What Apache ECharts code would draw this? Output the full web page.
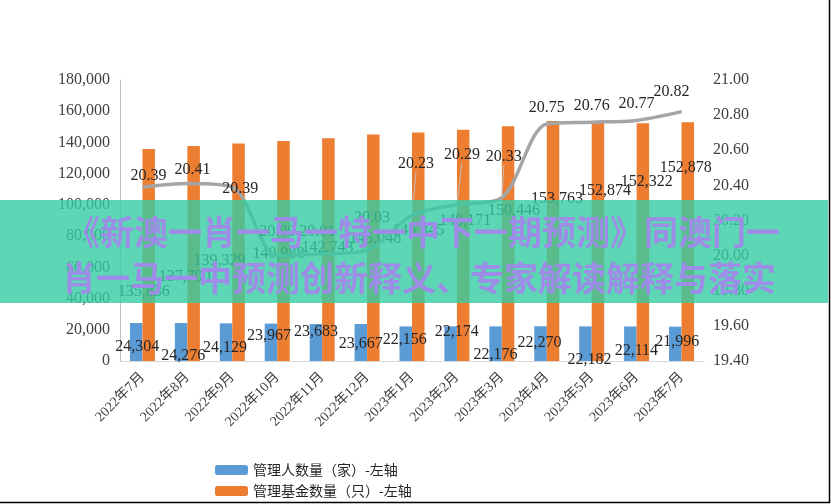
<!DOCTYPE html>
<html>
<head>
<meta charset="utf-8">
<script src="https://cdn.jsdelivr.net/npm/echarts@6/dist/echarts.min.js"></script>
<style>
  html, body { margin: 0; padding: 0; background: #fff; }
  #main { width: 831px; height: 504px; }
</style>
</head>
<body>
<div id="main"></div>
<script>
var categories = ['2022年7月','2022年8月','2022年9月','2022年10月','2022年11月','2022年12月','2023年1月','2023年2月','2023年3月','2023年4月','2023年5月','2023年6月','2023年7月'];
var managers = [24304,24276,24129,23967,23683,23667,22156,22174,22176,22270,22182,22114,21996];
var funds = [135836,137700,139329,140988,142743,145048,146345,148171,150446,153763,152874,152322,152878];
var avgFunds = [20.39,20.41,20.39,20.00,20.01,20.03,20.23,20.29,20.33,20.75,20.76,20.77,20.82];
var leftTicks = {min: 0, max: 180000, interval: 20000};
var rightTicks = {min: 19.4, max: 21.0, interval: 0.2};

// 标签偏移（仿原图手工摆放）
var managerDx = [1,2,-1,-2,0,0,-1,6,0,-1,4,6,2];
var managerDy = [37,46,37,25,21,33,26,18,41,30,46,37,28];
var fundDx = [-5,-9,-19,-5,-1,2,0,2,6,4,7,4,-2];
var fundDy = [156,144,130,126,123,117,111,104,98,91,81,72,58];
var avgDx = [6,5,8,0,-5,5,4,5,2,0,0,0,-10];
var avgDy = [2,0,15,-10,-9,-19,-38,-36,-27,-3,-3,-3,-6];

var serif = '"Liberation Serif", "Noto Sans CJK SC", serif';
var fmt = function (v) { return String(v).replace(/\B(?=(\d{3})+(?!\d))/g, ','); };

var myChart = echarts.init(document.getElementById('main'));
var option = {
  backgroundColor: '#fff',
  animation: false,
  grid: { left: 120, right: 127, top: 80, bottom: 143 },
  legend: {
    data: ['管理人数量（家）-左轴', '管理基金数量（只）-左轴'],
    orient: 'vertical',
    left: 210,
    top: 458,
    height: 46,
    itemWidth: 33,
    itemHeight: 10,
    itemGap: 7,
    textStyle: { fontSize: 14, color: '#262626', fontFamily: '"Noto Sans CJK SC"' }
  },
  xAxis: {
    type: 'category',
    data: categories,
    axisLine: { lineStyle: { color: '#d9d9d9' } },
    axisTick: { length: 5, lineStyle: { color: '#d9d9d9' } },
    axisLabel: { rotate: 45, fontSize: 14, color: '#404040', interval: 0, margin: 14, fontFamily: serif }
  },
  yAxis: [
    {
      type: 'value',
      min: leftTicks.min, max: leftTicks.max, interval: leftTicks.interval,
      axisLine: { show: true, lineStyle: { color: '#bfbfbf' } },
      axisTick: { show: false },
      splitLine: { show: false },
      axisLabel: { fontSize: 16, color: '#404040', fontFamily: serif, margin: 10, formatter: fmt }
    },
    {
      type: 'value',
      min: rightTicks.min, max: rightTicks.max, interval: rightTicks.interval,
      axisLine: { show: false },
      axisTick: { show: false },
      splitLine: { show: false },
      axisLabel: { fontSize: 16, color: '#404040', fontFamily: serif, margin: 9,
        formatter: function (v) { return v.toFixed(2); } }
    }
  ],
  series: [
    {
      name: '管理人数量（家）-左轴',
      type: 'bar',
      data: managers,
      barWidth: 12.5,
      barGap: '0%',
      itemStyle: { color: '#5b9bd5' },
      label: { show: true, position: 'top', fontSize: 16, color: '#262626', fontFamily: serif, formatter: function (p) { return fmt(p.value); } },
      labelLayout: function (p) { return { dx: managerDx[p.dataIndex], dy: managerDy[p.dataIndex] }; }
    },
    {
      name: '管理基金数量（只）-左轴',
      type: 'bar',
      data: funds,
      barWidth: 12.5,
      itemStyle: { color: '#ed7d31' },
      label: { show: true, position: 'top', fontSize: 16, color: '#262626', fontFamily: serif, formatter: function (p) { return fmt(p.value); } },
      labelLayout: function (p) { return { dx: fundDx[p.dataIndex], dy: fundDy[p.dataIndex] }; }
    },
    {
      name: '平均',
      type: 'line',
      yAxisIndex: 1,
      data: avgFunds.map(function (v, i) {
        return (i >= 6 && i <= 8) ? { value: v, labelLine: { show: true } } : v;
      }),
      smooth: 0.3,
      symbol: 'circle',
      symbolSize: 1,
      z: 5,
      lineStyle: { color: '#a5a5a5', width: 3.5 },
      itemStyle: { color: '#a5a5a5' },
      label: { show: true, position: 'top', fontSize: 16, color: '#262626', fontFamily: serif, formatter: function (p) { return p.value.toFixed(2); } },
      labelLine: { show: false, lineStyle: { color: '#bfbfbf', width: 1 } },
      labelLayout: function (p) { return { dx: avgDx[p.dataIndex], dy: avgDy[p.dataIndex] }; }
    }
  ],
  graphic: [
    { type: 'rect', z: 100, shape: { x: 0, y: 200, width: 828, height: 103 }, style: { fill: 'rgba(51,204,161,0.8)' } },
    { type: 'text', z: 101, x: 423, y: 232, style: { text: '《新澳一肖一马一特一中下一期预测》同澳门一', fill: '#9d8de6', font: 'bold 34px "Noto Sans CJK SC"', textAlign: 'center', textVerticalAlign: 'middle' } },
    { type: 'text', z: 101, x: 419, y: 278, style: { text: '肖一马一中预测创新释义、专家解读解释与落实', fill: '#9d8de6', font: 'bold 34px "Noto Sans CJK SC"', textAlign: 'center', textVerticalAlign: 'middle' } },
    { type: 'line', z: 101, shape: { x1: 829.5, y1: 0, x2: 829.5, y2: 503 }, style: { stroke: '#000', lineWidth: 1.5 } },
    { type: 'line', z: 101, shape: { x1: 0, y1: 502.5, x2: 830, y2: 502.5 }, style: { stroke: '#000', lineWidth: 1.5 } }
  ]
};
option && myChart.setOption(option);
window.addEventListener('resize', function () {
  myChart.resize();
});
</script>
</body>
</html>
